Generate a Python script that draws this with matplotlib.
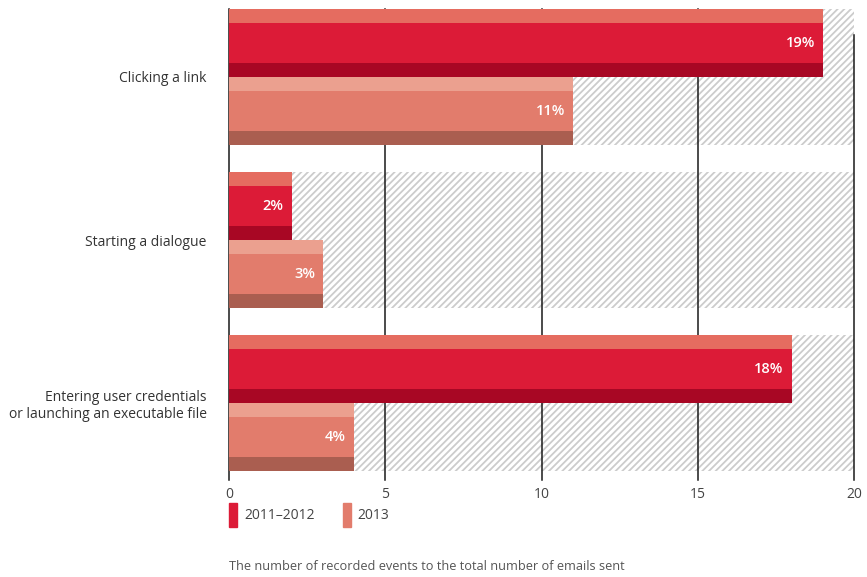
import numpy as np
import matplotlib.pyplot as plt
from matplotlib.patches import Patch

# data
categories = ['Clicking a link', 'Starting a dialogue',
              'Entering user credentials\nor launching an executable file']
vals_2011 = [19, 2, 18]
vals_2013 = [11, 3, 4]
series_names = ['2011\u20132012', '2013']
x_max = 20
xticks = [0, 5, 10, 15, 20]

# colours: top stripe, body, bottom stripe
c11 = ('#e56c60', '#dc1b37', '#a80724')
c13 = ('#eba08f', '#e27c6c', '#aa5e50')

plt.rcParams['font.family'] = ['Open Sans', 'DejaVu Sans']
plt.rcParams['hatch.linewidth'] = 1.3
plt.rcParams['hatch.color'] = '#cccccc'

W, H = 867, 577
fig = plt.figure(figsize=(W / 100, H / 100), dpi=100)
ax = fig.add_axes([229 / W, 97 / H, 625 / W, 471 / H])

# layout in group units (group pitch = 1)
bar_h = 68 / 163
stripe = 14 / 163
mid = 40 / 163
y = np.arange(len(categories))

# hatched background up to the maximum
ax.barh(y, x_max, height=2 * bar_h, color='white', edgecolor='#cccccc',
        hatch='/////', linewidth=0, zorder=1)

for off, vals, cols in [(-bar_h / 2, vals_2011, c11), (bar_h / 2, vals_2013, c13)]:
    yc = y + off
    ax.barh(yc - bar_h / 2 + stripe / 2, vals, height=stripe, color=cols[0], zorder=3)
    ax.barh(yc, vals, height=mid, color=cols[1], zorder=3)
    ax.barh(yc + bar_h / 2 - stripe / 2, vals, height=stripe, color=cols[2], zorder=3)
    for yy, v in zip(yc, vals):
        ax.text(v - 0.25, yy, f'{v}%', ha='right', va='center', color='white',
                fontsize=10.5, fontweight='semibold', zorder=4)

# vertical grid lines
for t in xticks:
    top = (480 - 35) / 471 if t == x_max else 1
    ax.axvline(t, ymax=top, color='#1a1a1a', lw=1.1, zorder=2, clip_on=False)

ax.set_xlim(0, x_max)
ax.set_ylim(2 + bar_h + 9 / 163, -bar_h)
ax.set_xticks(xticks)
ax.set_yticks(y)
ax.set_yticklabels(categories)
ax.tick_params(axis='x', length=0, pad=5, labelsize=10, labelcolor='#444444')
ax.tick_params(axis='y', length=0, pad=16, labelsize=10, labelcolor='#333333')
for s in ax.spines.values():
    s.set_visible(False)

handles = [Patch(color=c11[1]), Patch(color=c13[1])]
ax.legend(handles, series_names, loc='upper left', ncol=2, frameon=False,
          bbox_to_anchor=(229 / W, (577 - 503) / H), bbox_transform=fig.transFigure,
          borderaxespad=0, borderpad=0, fontsize=10, handlelength=0.6,
          handleheight=2.3, handletextpad=0.5, columnspacing=2.0,
          labelcolor='#444444')

fig.text(229 / W, (577 - 566) / H,
         'The number of recorded events to the total number of emails sent',
         va='center', ha='left', fontsize=9.2, color='#555555')

fig.savefig('out.png', dpi=100)
